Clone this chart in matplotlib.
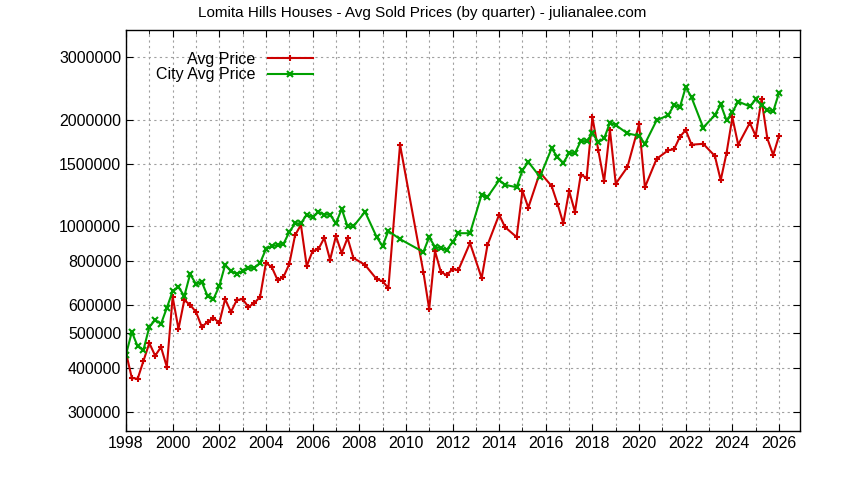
import matplotlib
matplotlib.use("Agg")
import matplotlib.pyplot as plt
from matplotlib.ticker import FixedLocator, FixedFormatter, MultipleLocator, NullLocator

years = [1998.0, 1998.25, 1998.5, 1998.75, 1999.0, 1999.25, 1999.5, 1999.75,
         2000.0, 2000.25, 2000.5, 2000.75, 2001.0, 2001.25, 2001.5, 2001.75,
         2002.0, 2002.25, 2002.5, 2002.75, 2003.0, 2003.25, 2003.5, 2003.75,
         2004.0, 2004.25, 2004.5, 2004.75, 2005.0, 2005.25, 2005.5, 2005.75,
         2006.0, 2006.25, 2006.5, 2006.75, 2007.0, 2007.25, 2007.5, 2007.75,
         2008.25, 2008.75, 2009.0, 2009.25, 2009.75, 2010.75, 2011.0, 2011.25,
         2011.5, 2011.75, 2012.0, 2012.25, 2012.75, 2013.25, 2013.5, 2014.0,
         2014.25, 2014.75, 2015.0, 2015.25, 2015.75, 2016.25, 2016.5, 2016.75,
         2017.0, 2017.25, 2017.5, 2017.75, 2018.0, 2018.25, 2018.5, 2018.75,
         2019.0, 2019.5, 2020.0, 2020.25, 2020.75, 2021.25, 2021.5, 2021.75,
         2022.0, 2022.25, 2022.75, 2023.25, 2023.5, 2023.75, 2024.0, 2024.25,
         2024.75, 2025.0, 2025.25, 2025.5, 2025.75, 2026.0]

avg_price = [440e3, 374e3, 372e3, 418e3, 469e3, 432e3, 457e3, 402e3,
             633e3, 514e3, 620e3, 601e3, 574e3, 521e3, 538e3, 552e3,
             535e3, 624e3, 574e3, 620e3, 624e3, 593e3, 608e3, 633e3,
             789e3, 768e3, 706e3, 720e3, 783e3, 945e3, 1010e3, 773e3,
             852e3, 863e3, 928e3, 805e3, 939e3, 841e3, 928e3, 815e3,
             779e3, 710e3, 701e3, 670e3, 1700e3, 744e3, 585e3, 852e3,
             744e3, 729e3, 758e3, 753e3, 898e3, 715e3, 886e3, 1080e3,
             996e3, 933e3, 1260e3, 1130e3, 1420e3, 1300e3, 1160e3, 1020e3,
             1260e3, 1100e3, 1400e3, 1370e3, 2030e3, 1640e3, 1340e3, 1870e3,
             1320e3, 1470e3, 1940e3, 1290e3, 1550e3, 1640e3, 1650e3, 1790e3,
             1870e3, 1700e3, 1710e3, 1580e3, 1350e3, 1610e3, 2030e3, 1700e3,
             1960e3, 1800e3, 2280e3, 1770e3, 1590e3, 1800e3]

city_avg_price = [435e3, 504e3, 459e3, 449e3, 521e3, 545e3, 531e3, 589e3,
                  657e3, 675e3, 636e3, 734e3, 688e3, 697e3, 636e3, 624e3,
                  679e3, 779e3, 749e3, 734e3, 749e3, 764e3, 764e3, 789e3,
                  863e3, 880e3, 886e3, 892e3, 964e3, 1020e3, 1020e3, 1080e3,
                  1060e3, 1100e3, 1080e3, 1080e3, 1020e3, 1120e3, 1000e3, 1000e3,
                  1100e3, 933e3, 880e3, 971e3, 921e3, 847e3, 933e3, 875e3,
                  869e3, 858e3, 903e3, 957e3, 957e3, 1230e3, 1210e3, 1350e3,
                  1310e3, 1290e3, 1440e3, 1520e3, 1380e3, 1660e3, 1570e3, 1510e3,
                  1610e3, 1610e3, 1740e3, 1740e3, 1830e3, 1730e3, 1770e3, 1960e3,
                  1930e3, 1830e3, 1800e3, 1710e3, 1990e3, 2060e3, 2200e3, 2170e3,
                  2470e3, 2310e3, 1900e3, 2060e3, 2210e3, 1990e3, 2100e3, 2250e3,
                  2180e3, 2280e3, 2200e3, 2130e3, 2110e3, 2380e3]

y_ticks = [300000, 400000, 500000, 600000, 800000, 1000000, 1500000, 2000000, 3000000]
x_ticks = list(range(1998, 2027, 2))

plt.rcParams["font.family"] = ["Liberation Sans", "DejaVu Sans"]

fig = plt.figure(figsize=(8.44, 4.8), dpi=100)
ax = fig.add_axes([126 / 844, 49 / 480, 674 / 844, 401 / 480])

ax.plot(years, avg_price, color="#cc0000", lw=1.5, marker="+", ms=5, mew=1.5, label="Avg Price")
ax.plot(years, city_avg_price, color="#00a000", lw=1.5, marker="x", ms=4, mew=1.5, label="City Avg Price")

ax.set_yscale("log")
ax.set_ylim(265000, 3580000)
ax.set_xlim(1998, 2026.9)
ax.yaxis.set_major_locator(FixedLocator(y_ticks))
ax.yaxis.set_major_formatter(FixedFormatter([str(v) for v in y_ticks]))
ax.yaxis.set_minor_locator(NullLocator())
ax.xaxis.set_major_locator(FixedLocator(x_ticks))
ax.xaxis.set_minor_locator(MultipleLocator(1))

ax.grid(True, which="both", color="#a0a0a0", linestyle=(0, (2, 3)), lw=0.8)
ax.tick_params(which="both", direction="in", top=True, right=True, labelsize=11.5, length=5)
ax.tick_params(which="minor", length=3)
for s in ax.spines.values():
    s.set_linewidth(1.0)

ax.legend(loc="upper left", bbox_to_anchor=(0.03, 0.97), frameon=False, markerfirst=False,
          fontsize=11.5, handlelength=2.8, borderaxespad=0.2, labelspacing=0.05)

fig.text(0.5, 0.972, "Lomita Hills Houses - Avg Sold Prices (by quarter) - julianalee.com",
         ha="center", va="center", fontsize=11)

fig.savefig("out.png", dpi=100)
